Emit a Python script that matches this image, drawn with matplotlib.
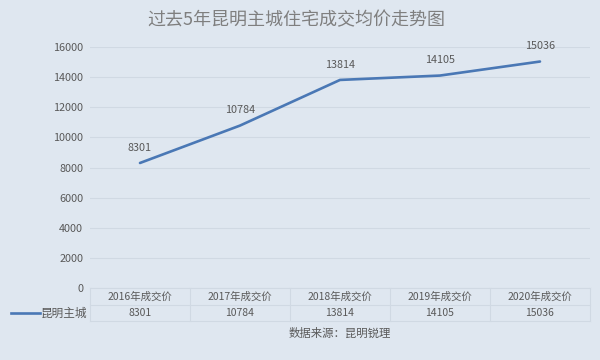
import matplotlib
matplotlib.use('agg')
import matplotlib.pyplot as plt
from matplotlib.transforms import blended_transform_factory

plt.rcParams['font.family'] = ['Noto Sans CJK SC', 'DejaVu Sans']

Titulo = '过去5年昆明主城住宅成交均价走势图'
Categorias = ['2016年成交价', '2017年成交价', '2018年成交价', '2019年成交价', '2020年成交价']
Serie = '昆明主城'
Precios = [8301, 10784, 13814, 14105, 15036]
Yticks = [0, 2000, 4000, 6000, 8000, 10000, 12000, 14000, 16000]
Fuente = '数据来源：昆明锐理'

fondo = '#dfe7f0'
azul = '#4a78b5'
gris = '#595959'
linea = '#d0d9e3'

fig = plt.figure(figsize=(6, 3.6), dpi=100, facecolor=fondo)
ax = fig.add_axes([0.15, 0.2, 0.8333, 0.6694], facecolor=fondo)

x = list(range(len(Precios)))
ax.plot(x, Precios, color=azul, linewidth=1.9, solid_capstyle='round')

# etiquetas de datos
for xi, v in zip(x, Precios):
    ax.annotate(str(v), (xi, v), xytext=(0, 11), textcoords='offset points',
                ha='center', va='center', fontsize=7.8, color=gris)

ax.set_xlim(-0.5, len(Precios) - 0.5)
ax.set_ylim(0, 16000)
ax.set_yticks(Yticks)
ax.set_yticklabels([str(t) for t in Yticks], fontsize=7.8, color=gris)
ax.set_xticks([])
ax.tick_params(axis='y', length=0, pad=5)
ax.grid(axis='y', color=linea, linewidth=0.8)
for s in ax.spines.values():
    s.set_visible(False)

# tabla de datos bajo el eje
tr = blended_transform_factory(ax.transData, fig.transFigure)
y_top = 1 - 288 / 360
y_mid = 1 - 305 / 360
y_bot = 1 - 321 / 360
for xi in [i - 0.5 for i in range(len(Precios) + 1)]:
    ax.plot([xi, xi], [y_top, y_bot], transform=tr, color=linea, lw=0.8, clip_on=False)
for yy in [y_top, y_mid, y_bot]:
    ax.plot([-0.5, len(Precios) - 0.5], [yy, yy], transform=tr, color=linea, lw=0.8, clip_on=False)
for xi, cat, v in zip(x, Categorias, Precios):
    ax.text(xi, (y_top + y_mid) / 2, cat, transform=tr, ha='center', va='center',
            fontsize=7.5, color=gris)
    ax.text(xi, (y_mid + y_bot) / 2, str(v), transform=tr, ha='center', va='center',
            fontsize=7.5, color=gris)

# leyenda de la fila
ym = (y_mid + y_bot) / 2
fig.add_artist(plt.Line2D([11 / 600, 40 / 600], [ym, ym], color=azul, lw=1.9))
fig.text(41 / 600, ym, Serie, ha='left', va='center', fontsize=8.4, color=gris)

fig.text(340 / 600, 1 - 333 / 360, Fuente, ha='center', va='center', fontsize=8.2, color=gris)
fig.text(296 / 600, 1 - 20 / 360, Titulo, ha='center', va='center', fontsize=13, color='#7f7f7f')

plt.savefig('out.png', dpi=100, facecolor=fondo)
